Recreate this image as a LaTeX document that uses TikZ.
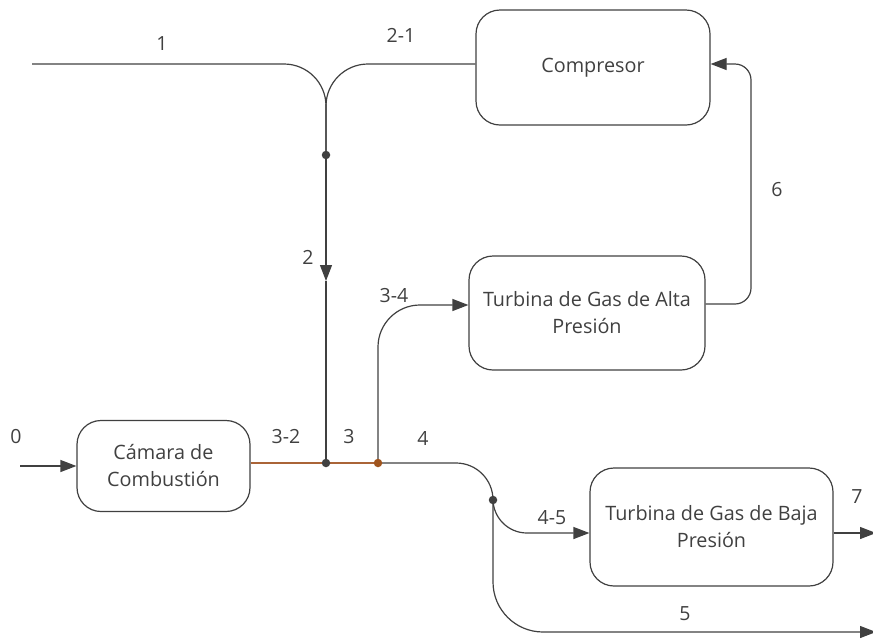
\documentclass[tikz,border=0pt]{standalone}
\usepackage{fontspec}
\setmainfont{Open Sans}
\usetikzlibrary{arrows.meta}
\definecolor{ln}{RGB}{64,64,64}
\definecolor{orln}{RGB}{170,100,55}
\definecolor{ordot}{RGB}{160,85,30}
\begin{document}
\begin{tikzpicture}[x=1pt,y=-1pt,
  every node/.style={text=ln},
  box/.style={draw=ln,line width=1.2pt,rounded corners=24pt,inner sep=0pt,align=center,font=\fontsize{19.8}{27}\selectfont},
  lbl/.style={font=\fontsize{19.5}{22}\selectfont,inner sep=0pt},
  flow/.style={draw=ln,line width=1.2pt},
  arr/.style={-{Triangle[length=16pt,width=12pt]}},
  dot/.style={circle,fill=ln,inner sep=0pt,minimum size=8.5pt}]
\useasboundingbox (0,0) rectangle (873,638);
% boxes
\node[box,minimum width=234pt,minimum height=115pt] (comp) at (593,67.5) {Compresor};
\node[box,minimum width=236pt,minimum height=114pt] (tga) at (587,313) {Turbina de Gas de Alta\\Presión};
\node[box,minimum width=173pt,minimum height=91pt] (cam) at (163.5,466) {Cámara de\\Combustión};
\node[box,minimum width=243pt,minimum height=118pt] (tgb) at (711.5,527) {Turbina de Gas de Baja\\Presión};
% junctions and free ends
\coordinate (in1) at (32,64);
\coordinate (in0) at (20,466);
\coordinate (a2) at (326,281);
\coordinate (out5) at (876,632);
\coordinate (out7) at (876,533);
\node[dot] (j1) at (326,155) {};
% lines
\draw[flow,rounded corners=42pt] (in1) -- (326,64) -- (j1.center);
\draw[flow,rounded corners=42pt] ([yshift=3.5pt]comp.west) -- (326,64) -- (j1.center);
\draw[flow,arr] (j1.center) -- (a2);
\coordinate (j2) at (326,463);
\coordinate (j3) at (378,463);
\draw[flow] (a2) -- (j2);
\draw[flow,arr] (in0) -- (cam.west);
\draw[flow,draw=orln] (cam.east |- j2) -- (j2) -- (j3);
\draw[flow,arr,rounded corners=42pt] (j3) -- (378,305) -- ([yshift=8pt]tga.west);
\draw[flow,arr,rounded corners=16pt] ([yshift=9pt]tga.east) -- (751,304) -- (751,64) -- ([yshift=3.5pt]comp.east);
\coordinate (j4) at (493,500);
\draw[flow,rounded corners=37pt] (j3) -- (493,463) -- (j4);
\draw[flow,arr,rounded corners=34pt] (j4) -- (493,533) -- ([yshift=-6pt]tgb.west);
\draw[flow,arr,rounded corners=50pt] (j4) -- (493,632) -- (out5);
\draw[flow,arr] (tgb.east |- out7) -- (out7);
% dots
\node[dot] (d2) at (j2) {};
\node[dot,fill=ordot] (d3) at (j3) {};
\node[dot] (d4) at (j4) {};
% labels
\node[lbl] (l1) at (162,44) {1};
\node[lbl] (l21) at (401,35) {2-1};
\node[lbl] (l2) at (308,257) {2};
\node[lbl] (l34) at (394,296) {3-4};
\node[lbl] (l0) at (16,437) {0};
\node[lbl] (l32) at (286,437) {3-2};
\node[lbl] (l3) at (349,437) {3};
\node[lbl] (l4) at (423,438) {4};
\node[lbl] (l6) at (777,190) {6};
\node[lbl] (l45) at (552,518) {4-5};
\node[lbl] (l7) at (857,497) {7};
\node[lbl] (l5) at (685,614) {5};
\end{tikzpicture}
\end{document}
